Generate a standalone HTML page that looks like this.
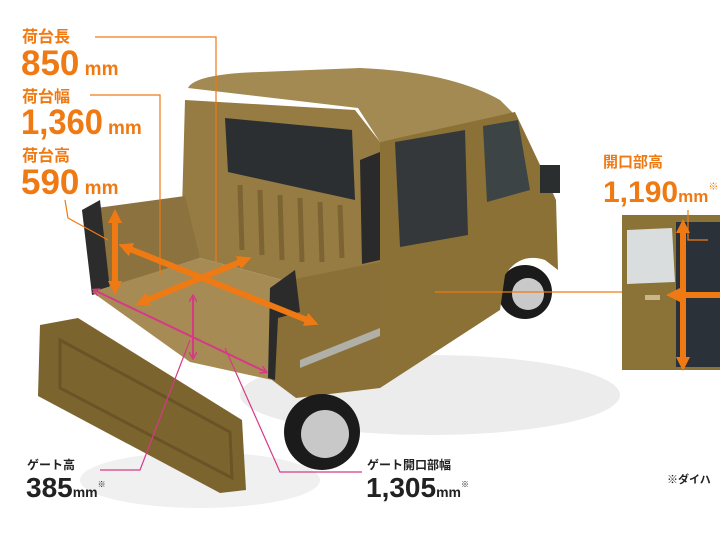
<!DOCTYPE html>
<html><head><meta charset="utf-8"><style>
body{margin:0;background:#fff;width:720px;height:540px;overflow:hidden}
svg{display:block}
.o{font-family:"Liberation Sans","Noto Sans CJK JP",sans-serif;font-weight:bold;fill:#ef7a14}
.k{font-family:"Liberation Sans","Noto Sans CJK JP",sans-serif;font-weight:bold;fill:#222}
</style></head><body>
<svg width="720" height="540" viewBox="0 0 720 540" xmlns="http://www.w3.org/2000/svg">
<defs>
<marker id="ah" markerWidth="14" markerHeight="14" refX="7" refY="7" orient="auto-start-reverse" markerUnits="userSpaceOnUse"><path d="M0,0L14,7L0,14Z" fill="#ef7a14"/></marker>
<marker id="ph" markerWidth="8" markerHeight="8" refX="6" refY="4" orient="auto-start-reverse" markerUnits="userSpaceOnUse"><path d="M0,0L7,4L0,8" fill="none" stroke="#d63a86" stroke-width="1.5"/></marker>
</defs>
<ellipse cx="430" cy="395" rx="190" ry="40" fill="#ececec"/>
<ellipse cx="200" cy="480" rx="120" ry="28" fill="#f0f0f0"/>
<circle cx="525" cy="292" r="27" fill="#1b1b1b"/><circle cx="528" cy="294" r="16" fill="#c9c9c9"/>
<path d="M188,88 Q195,74 260,72 L360,68 Q450,72 500,100 L515,115 L380,142 L358,108 Z" fill="#a28a52"/>
<path d="M185,100 L355,110 L380,142 L380,265 L290,282 L200,258 L182,210 Z" fill="#967b42"/>
<path d="M225,118 L352,130 L355,200 L228,172 Z" fill="#2b2f31"/>
<g stroke="#7d6533" stroke-width="5">
<line x1="240" y1="185" x2="242" y2="250"/><line x1="260" y1="190" x2="262" y2="255"/><line x1="280" y1="195" x2="282" y2="260"/><line x1="300" y1="198" x2="302" y2="262"/><line x1="320" y1="202" x2="322" y2="262"/><line x1="340" y1="205" x2="342" y2="258"/></g>
<path d="M380,142 L515,112 L540,165 L556,200 L558,270 L545,260 Q520,252 505,275 L500,310 L380,388 Z" fill="#8b7135"/>
<path d="M395,142 L465,130 L468,235 L400,247 Z" fill="#34383a"/>
<path d="M483,126 L518,120 L530,190 L487,202 Z" fill="#3c4446"/>
<rect x="540" y="165" width="20" height="28" fill="#2a2e2e"/>
<path d="M360,160 L380,152 L380,260 L362,264 Z" fill="#2a2a2a"/>
<path d="M82,210 L185,196 L200,258 L95,292 Z" fill="#8c723e"/>
<path d="M82,210 L100,200 L110,290 L92,295 Z" fill="#2c2c2c"/>
<path d="M92,292 L200,258 L290,282 L272,380 L190,362 Z" fill="#a78b55"/>
<path d="M280,282 L380,262 L380,388 L296,398 L272,380 Z" fill="#8a7036"/>
<circle cx="322" cy="432" r="38" fill="#1b1b1b"/><circle cx="325" cy="434" r="24" fill="#c8c8c8"/>
<path d="M270,288 L295,270 L300,312 L278,318 L275,380 L268,378 Z" fill="#2b2b2b"/>
<path d="M300,360 L380,328 L380,336 L300,368 Z" fill="#b0b0a8"/>
<path d="M40,325 L78,318 L242,420 L246,490 L220,493 L38,396 Z" fill="#7c642f"/>
<path d="M60,340 L230,432 L232,478 L60,388 Z" fill="none" stroke="#6a5426" stroke-width="3"/>
<rect x="622" y="215" width="98" height="155" fill="#8b7236"/>
<path d="M627,230 L672,228 L675,282 L627,284 Z" fill="#d9dddd"/>
<rect x="676" y="222" width="44" height="145" fill="#2b3139"/>
<rect x="645" y="295" width="15" height="5" fill="#c9b78a"/>
<g stroke="#ef7a14" stroke-width="1.2" fill="none">
<polyline points="95,37 216,37 216,262"/>
<polyline points="90,95 160,95 160,275"/>
<polyline points="65,200 68,218 108,240"/>
<line x1="435" y1="292" x2="622" y2="292"/>
<polyline points="688,210 688,240 708,240"/>
</g>
<g stroke="#ef7a14" stroke-width="6" fill="none">
<line x1="115" y1="216" x2="115" y2="288" marker-start="url(#ah)" marker-end="url(#ah)"/>
<line x1="125" y1="247" x2="312" y2="322" marker-start="url(#ah)" marker-end="url(#ah)"/>
<line x1="142" y1="302" x2="245" y2="260" marker-start="url(#ah)" marker-end="url(#ah)"/>
<line x1="683" y1="226" x2="683" y2="364" marker-start="url(#ah)" marker-end="url(#ah)"/>
<line x1="673" y1="295" x2="720" y2="295" marker-start="url(#ah)"/>
</g>
<g stroke="#d63a86" stroke-width="2" fill="none">
<line x1="94" y1="290" x2="266" y2="372" marker-start="url(#ph)" marker-end="url(#ph)"/>
<line x1="193" y1="296" x2="193" y2="358" marker-start="url(#ph)" marker-end="url(#ph)"/>
</g>
<g stroke="#d63a86" stroke-width="1.2" fill="none">
<polyline points="190,340 140,470 100,470"/>
<polyline points="225,348 280,472 362,472"/>
</g>
<text class="o" x="22" y="42" font-size="16">荷台長</text>
<text class="o" x="21" y="75" font-size="35">850<tspan font-size="19"> mm</tspan></text>
<text class="o" x="22" y="102" font-size="16">荷台幅</text>
<text class="o" x="21" y="134" font-size="35" textLength="82" lengthAdjust="spacingAndGlyphs">1,360</text><text class="o" x="108" y="134" font-size="19">mm</text>
<text class="o" x="22" y="161" font-size="16">荷台高</text>
<text class="o" x="21" y="194" font-size="35">590<tspan font-size="19"> mm</tspan></text>
<text class="o" x="603" y="167" font-size="15">開口部高</text>
<text class="o" x="603" y="202" font-size="30">1,190<tspan font-size="17">mm</tspan><tspan font-size="10" dy="-12">※</tspan></text>
<text class="k" x="27" y="469" font-size="12">ゲート高</text>
<text class="k" x="26" y="497" font-size="28" font-weight="normal">385<tspan font-size="14" font-weight="bold">mm</tspan><tspan font-size="8" dy="-10">※</tspan></text>
<text class="k" x="367" y="469" font-size="12">ゲート開口部幅</text>
<text class="k" x="366" y="497" font-size="28" font-weight="normal">1,305<tspan font-size="14" font-weight="bold">mm</tspan><tspan font-size="8" dy="-10">※</tspan></text>
<text class="k" x="667" y="483" font-size="11">※ダイハ</text>
</svg>
</body></html>
